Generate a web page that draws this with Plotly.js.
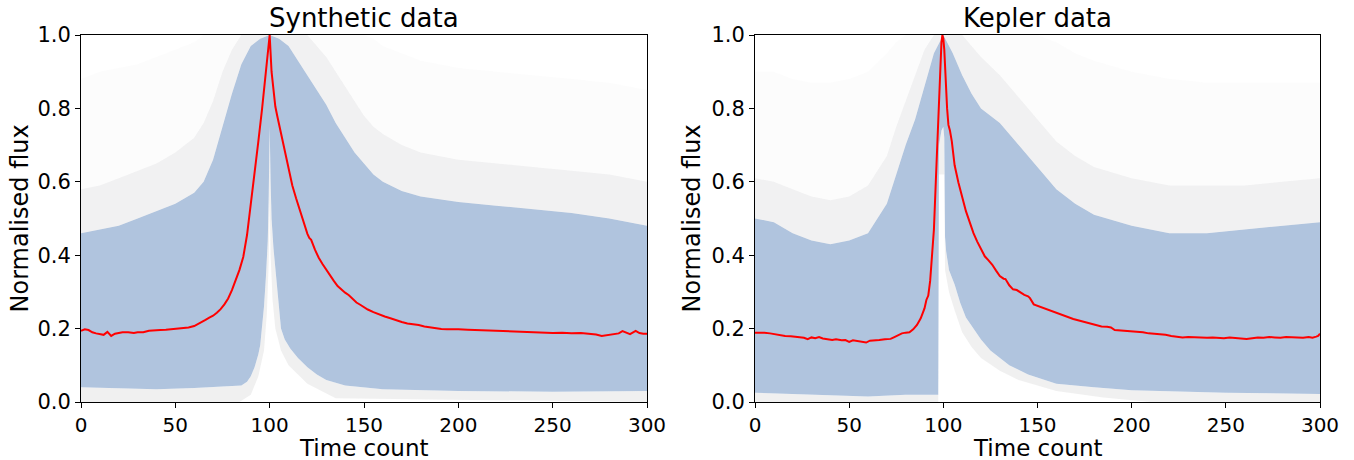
<!DOCTYPE html>
<html><head><meta charset="utf-8">
<script src="https://cdn.plot.ly/plotly-3.0.1.min.js"></script>
<style>html,body{margin:0;padding:0;background:#fff}#chart{width:1354px;height:460px}</style>
</head><body><div id="chart"></div>
<script>
// ---------- Synthetic data ----------
const synMedX = [0,2,4,6,8,10,12,14,15,16,18,20,22,25,28,30,33,36,39,42,45,48,51,54,57,60,62,64,66,68,70,72,74,76,78,80,82,84,86,88,90,92,94,96,98,99,100,101,102,103,104,106,108,110,112,114,116,118,120,121,122,124,126,128,130,132,134,136,138,140,142,144,146,148,150,152,155,158,161,164,167,170,173,176,179,182,185,188,191,194,197,200,205,210,215,220,225,230,235,240,245,250,255,260,265,270,273,276,279,282,285,287,289,291,294,296,298,300];
const synMed = [0.194,0.198,0.196,0.19,0.187,0.185,0.183,0.191,0.184,0.18,0.186,0.188,0.19,0.19,0.188,0.19,0.19,0.194,0.194,0.196,0.197,0.198,0.2,0.201,0.203,0.207,0.212,0.218,0.224,0.23,0.235,0.243,0.253,0.266,0.282,0.305,0.333,0.36,0.395,0.455,0.54,0.62,0.71,0.8,0.905,0.95,1.0,0.9,0.85,0.805,0.78,0.73,0.68,0.63,0.59,0.555,0.523,0.487,0.458,0.447,0.442,0.415,0.393,0.376,0.36,0.347,0.33,0.316,0.306,0.298,0.291,0.28,0.271,0.265,0.258,0.252,0.245,0.238,0.233,0.228,0.222,0.218,0.214,0.213,0.21,0.206,0.203,0.201,0.199,0.198,0.199,0.198,0.197,0.196,0.195,0.193,0.194,0.192,0.191,0.189,0.188,0.188,0.189,0.187,0.188,0.186,0.184,0.18,0.183,0.185,0.187,0.193,0.188,0.185,0.194,0.188,0.186,0.186];

const synLoX = [0,20,40,60,75,85,88,90,92,94,95,96,97,98,99,99.5,100,100.5,101,102,103,104,105,106,108,111,115,120,125,130,140,160,200,250,300];
const synLo = [0.04,0.038,0.035,0.038,0.042,0.045,0.055,0.07,0.095,0.13,0.155,0.2,0.26,0.34,0.44,0.56,0.75,0.6,0.5,0.42,0.36,0.3,0.24,0.2,0.17,0.145,0.12,0.095,0.075,0.06,0.045,0.035,0.03,0.028,0.03];
const synLoHazeX = [0,84,90,94,97,98.5,99.5,100,100.5,101.5,103,106,110,120,135,300];
const synLoHaze = [0,0,0.02,0.07,0.14,0.24,0.38,0.55,0.4,0.28,0.2,0.14,0.1,0.05,0.01,0];

const synHiX = [0,10,20,30,40,50,60,65,70,75,80,85,90,95,100,105,110,115,120,125,130,135,140,145,150,155,160,170,180,200,220,240,260,280,300];
const synHi = [0.46,0.47,0.48,0.5,0.52,0.54,0.57,0.6,0.66,0.75,0.84,0.92,0.97,0.99,1.0,0.99,0.97,0.93,0.89,0.85,0.81,0.76,0.72,0.68,0.65,0.62,0.6,0.575,0.56,0.545,0.535,0.525,0.515,0.5,0.48];
const synHazeMid = [0.58,0.59,0.61,0.63,0.65,0.68,0.72,0.76,0.82,0.9,0.96,1,1,1,1,1,1,1,1,0.97,0.94,0.9,0.86,0.82,0.78,0.75,0.73,0.7,0.68,0.66,0.65,0.64,0.63,0.62,0.6];
const synHazeTop = [0.88,0.9,0.91,0.92,0.94,0.96,0.98,1,1,1,1,1,1,1,1,1,1,1,1,1,1,1,1,1,1,0.99,0.97,0.95,0.93,0.91,0.9,0.89,0.88,0.87,0.85];

// ---------- Kepler data ----------
const kepMedX = [0,3,5,8,11,14,16,19,21,23,26,28,30,32,34,36,38,41,43,46,48,50,52,55,57,59,61,64,66,69,72,74,76,78,80,82,84,86,88,90,91,92,93,94,95,96,97,98,99,99.5,100,100.5,101,102,102.7,103.5,104.5,106,108,110,112,114,116,118,120,122,124,126,128,130,132,133,135,137,139,141,143,145,146,148,150,152,155,158,160,163,166,169,172,175,178,181,184,187,189,191,194,197,200,203,206,209,212,215,218,221,224,227,230,233,236,240,243,246,249,252,255,258,261,264,267,270,273,276,279,282,285,288,291,294,296,298,299,300];
const kepMed = [0.189,0.19,0.189,0.187,0.184,0.182,0.18,0.179,0.178,0.176,0.175,0.171,0.176,0.174,0.177,0.173,0.172,0.169,0.171,0.168,0.169,0.164,0.168,0.166,0.165,0.162,0.167,0.167,0.169,0.171,0.172,0.177,0.182,0.187,0.189,0.19,0.198,0.21,0.228,0.255,0.278,0.29,0.33,0.39,0.47,0.6,0.74,0.88,0.98,1.0,0.99,0.96,0.9,0.8,0.755,0.74,0.71,0.645,0.598,0.56,0.52,0.49,0.46,0.437,0.415,0.397,0.386,0.374,0.358,0.343,0.336,0.335,0.318,0.307,0.305,0.298,0.292,0.288,0.283,0.266,0.262,0.258,0.253,0.246,0.242,0.236,0.231,0.226,0.222,0.218,0.214,0.208,0.206,0.205,0.203,0.196,0.195,0.194,0.193,0.191,0.19,0.187,0.186,0.184,0.183,0.18,0.178,0.176,0.177,0.176,0.176,0.175,0.176,0.175,0.174,0.176,0.175,0.173,0.172,0.174,0.176,0.175,0.177,0.176,0.175,0.177,0.176,0.177,0.175,0.177,0.175,0.178,0.18,0.186];

const kepLoX = [0,20,40,60,80,97.3,97.7,99,100,100.5,100.9,101.5,103,106,109,112,116,120,125,130,135,145,160,180,200,250,300];
const kepLo = [0.025,0.022,0.018,0.015,0.02,0.02,0.7,0.74,0.75,0.72,0.45,0.41,0.36,0.32,0.27,0.23,0.2,0.17,0.14,0.12,0.1,0.075,0.05,0.04,0.032,0.025,0.022];
const kepLoHazeX = [0,97.3,97.7,100.5,100.9,103,106,110,115,120,130,140,160,185,210,300];
const kepLoHaze = [0,0,0.62,0.62,0.36,0.3,0.25,0.19,0.15,0.12,0.085,0.06,0.03,0.012,0,0];

const kepHiX = [0,10,20,30,40,50,60,70,75,80,85,90,95,100,105,110,115,120,130,140,150,160,170,180,200,220,240,260,280,300];
const kepHi = [0.5,0.49,0.46,0.44,0.43,0.44,0.46,0.54,0.62,0.7,0.77,0.86,0.95,1.0,0.95,0.89,0.84,0.8,0.76,0.7,0.64,0.58,0.54,0.51,0.48,0.46,0.46,0.47,0.48,0.49];
const kepHazeMid = [0.61,0.6,0.58,0.56,0.55,0.56,0.59,0.67,0.75,0.82,0.89,0.96,1,1,1,1,0.97,0.94,0.89,0.83,0.77,0.71,0.67,0.64,0.61,0.59,0.59,0.59,0.6,0.61];
const kepHazeTop = [0.9,0.9,0.88,0.87,0.87,0.88,0.9,0.95,0.98,1,1,1,1,1,1,1,1,1,1,1,1,0.98,0.95,0.93,0.9,0.88,0.87,0.87,0.87,0.87];

// ---------- ticks / labels ----------
const xTickVals = [0,50,100,150,200,250,300];
const yTickVals = [0,0.2,0.4,0.6,0.8,1.0];
const yTickText = ['0.0','0.2','0.4','0.6','0.8','1.0'];
const panelTitles = ['Synthetic data','Kepler data'];
const xLabel = 'Time count';
const yLabel = 'Normalised flux';

const BLUE = '#B0C4DE';
const FONT = 'DejaVu Sans, Liberation Sans, sans-serif';

function panel(xa, ya, d) {
  const base = {xaxis: xa, yaxis: ya, mode: 'lines', hoverinfo: 'skip', showlegend: false};
  const noLine = {width: 0, color: 'rgba(0,0,0,0)'};
  return [
    Object.assign({}, base, {x: d.loHazeX, y: d.loHaze, line: noLine}),
    Object.assign({}, base, {x: d.loX, y: d.lo, line: noLine, fill: 'tonexty', fillcolor: 'rgba(200,200,200,0.28)'}),
    Object.assign({}, base, {x: d.hiX, y: d.hi, line: noLine, fill: 'tonexty', fillcolor: BLUE}),
    Object.assign({}, base, {x: d.hiX, y: d.hazeMid, line: noLine, fill: 'tonexty', fillcolor: 'rgba(185,185,190,0.2)'}),
    Object.assign({}, base, {x: d.hiX, y: d.hazeTop, line: noLine, fill: 'tonexty', fillcolor: 'rgba(200,200,200,0.05)'}),
    Object.assign({}, base, {x: d.medX, y: d.med, line: {width: 2, color: '#ff0000'}})
  ];
}

const traces = [].concat(
  panel('x', 'y', {loHazeX: synLoHazeX, loHaze: synLoHaze, loX: synLoX, lo: synLo, hiX: synHiX, hi: synHi, hazeMid: synHazeMid, hazeTop: synHazeTop, medX: synMedX, med: synMed}),
  panel('x2', 'y2', {loHazeX: kepLoHazeX, loHaze: kepLoHaze, loX: kepLoX, lo: kepLo, hiX: kepHiX, hi: kepHi, hazeMid: kepHazeMid, hazeTop: kepHazeTop, medX: kepMedX, med: kepMed})
);

const W = 1354, H = 460;
const yDom = [1 - 402 / H, 1 - 35 / H];
function xAxis(dom, anchor) {
  return {domain: dom, anchor: anchor, range: [0, 300], tickmode: 'array', tickvals: xTickVals,
    ticks: 'outside', ticklen: 5, tickwidth: 1, tickcolor: '#000', showline: true, mirror: true,
    linecolor: '#000', linewidth: 1, showgrid: false, zeroline: false,
    tickfont: {family: FONT, size: 20, color: '#000'}, fixedrange: true};
}
function yAxis(anchor) {
  return {domain: yDom, anchor: anchor, range: [0, 1], tickmode: 'array', tickvals: yTickVals, ticktext: yTickText,
    ticks: 'outside', ticklen: 5, tickwidth: 1, tickcolor: '#000', showline: true, mirror: true,
    linecolor: '#000', linewidth: 1, showgrid: false, zeroline: false,
    tickfont: {family: FONT, size: 21, color: '#000'}, fixedrange: true};
}
const xDomL = [81 / W, 647 / W], xDomR = [755 / W, 1320 / W];
const mid = d => (d[0] + d[1]) / 2;
const ann = [];
[[xDomL, panelTitles[0], 19], [xDomR, panelTitles[1], 691]].forEach(([dom, t, ylx]) => {
  ann.push({text: t, xref: 'paper', yref: 'paper', x: mid(dom), y: 1 - 18 / H, xanchor: 'center', yanchor: 'middle', showarrow: false, font: {family: FONT, size: 26, color: '#000'}});
  ann.push({text: xLabel, xref: 'paper', yref: 'paper', x: mid(dom), y: 0, yshift: -2, xanchor: 'center', yanchor: 'bottom', showarrow: false, borderpad: 0, font: {family: FONT, size: 23, color: '#000'}});
  ann.push({text: yLabel, xref: 'paper', yref: 'paper', x: ylx / W, y: mid(yDom), xanchor: 'center', yanchor: 'middle', textangle: -90, showarrow: false, font: {family: FONT, size: 24, color: '#000'}});
});

const layout = {
  width: W, height: H, autosize: false,
  margin: {l: 0, r: 0, t: 0, b: 0},
  paper_bgcolor: '#fff', plot_bgcolor: '#fff',
  font: {family: FONT, color: '#000'},
  xaxis: xAxis(xDomL, 'y'), yaxis: yAxis('x'),
  xaxis2: xAxis(xDomR, 'y2'), yaxis2: yAxis('x2'),
  annotations: ann, showlegend: false
};
Plotly.newPlot('chart', traces, layout, {staticPlot: true, displayModeBar: false});
</script>
</body></html>
